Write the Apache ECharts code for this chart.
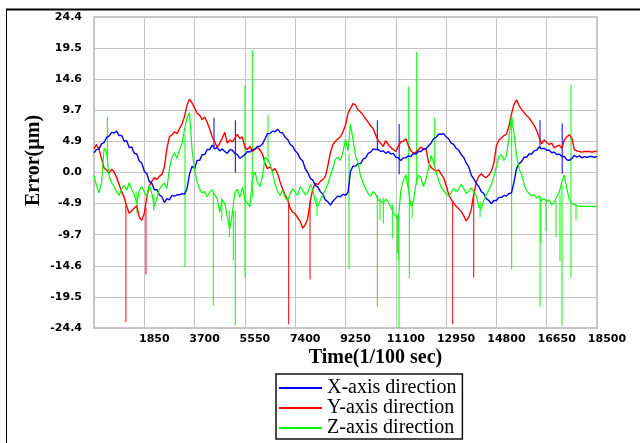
<!DOCTYPE html>
<html>
<head>
<meta charset="utf-8">
<script src="https://cdn.jsdelivr.net/npm/echarts@6/dist/echarts.min.js"></script>
<style>
  html, body { margin: 0; padding: 0; background: #fff; }
  #chart { width: 640px; height: 443px; }
</style>
</head>
<body>
<div id="chart"></div>
<script>
// samples every 92.5 (1/100 sec), 0 .. 18500
var timeStep = 92.5;

var xErr = [
  3.1, 3.6, 3.7, 4.5, 4.7, 5.5, 5.7, 6.3, 6.2, 6.5, 5.8, 5.8, 4.9, 5.0, 3.9, 4.0, 3.0, 2.9, 1.8, 1.5,
  0.2, -0.2, -1.4, -1.7, -2.7, -2.7, -3.5, -3.8, -4.7, -4.1, -4.3, -3.6, -3.7, -3.5, -3.5, -3.3, -3.4, -2.5, -0.2, 1.0,
  0.6, 1.9, 1.9, 2.8, 2.8, 3.6, 3.6, 4.3, 3.7, 3.9, 3.4, 3.7, 3.3, 3.0, 3.6, 3.5, 3.0, 2.8, 2.2, 2.5,
  2.8, 3.3, 3.2, 3.6, 3.7, 4.1, 4.1, 4.5, 5.3, 6.1, 6.1, 6.5, 6.4, 6.8, 6.3, 6.2, 5.5, 5.2, 4.4, 4.1,
  3.4, 3.0, 2.2, 1.8, 0.6, 0.0, -0.9, -1.2, -2.0, -2.3, -3.0, -3.4, -4.3, -4.6, -5.1, -4.5, -4.1, -3.7, -3.8, -3.4,
  -3.6, -3.1, 0.2, 1.0, 1.0, 1.4, 1.4, 2.1, 2.3, 3.0, 3.2, 3.7, 3.6, 3.6, 3.3, 3.4, 3.0, 3.3, 2.9, 3.0,
  2.4, 2.3, 1.9, 2.3, 2.3, 2.6, 2.5, 3.0, 2.9, 3.3, 3.3, 3.7, 3.7, 4.2, 4.6, 5.3, 5.5, 6.0, 6.0, 6.1,
  5.6, 5.3, 4.6, 4.4, 3.8, 3.5, 2.8, 2.4, 1.5, 0.9, -0.4, -1.0, -1.7, -2.2, -3.0, -3.3, -4.1, -4.4, -4.9, -4.4,
  -4.4, -3.9, -3.9, -3.6, -3.7, -3.3, -3.2, -1.5, 0.6, 1.4, 1.7, 2.4, 2.4, 2.9, 2.9, 3.4, 3.5, 4.0, 3.7, 3.8,
  3.5, 3.5, 3.1, 3.2, 2.8, 2.9, 2.5, 2.5, 2.0, 1.9, 2.2, 2.7, 2.4, 2.6, 2.3, 2.5, 2.4, 2.5, 2.5, 2.4, 2.5
];

var yErr = [
  3.7, 4.4, 3.6, 2.2, 0.7, 0.4, -0.1, 0.5, 0.1, -0.8, -1.9, -3.0, -3.9, -5.3, -6.4, -6.0, -5.6, -5.2, -7.0, -7.5,
  -6.4, -3.9, -2.1, -1.4, -0.8, -1.1, -0.6, -0.3, 0.9, 3.8, 5.6, 5.9, 6.4, 6.1, 6.9, 7.6, 8.8, 10.6, 11.5, 10.9,
  10.1, 9.3, 9.0, 8.3, 8.7, 7.9, 6.8, 5.6, 4.8, 3.9, 4.6, 5.4, 6.3, 4.6, 5.1, 4.8, 5.4, 6.0, 5.3, 5.6,
  3.9, 3.6, 4.1, 3.3, 3.6, 4.0, 3.5, 2.9, 1.4, 0.6, 0.9, 0.3, 0.6, -0.2, -1.5, -2.6, -3.5, -4.3, -5.6, -6.2,
  -6.5, -7.1, -7.7, -8.7, -8.2, -7.2, -4.5, -2.6, -1.7, -1.9, -1.4, -1.1, -0.6, 1.1, 3.1, 4.4, 4.9, 5.3, 5.6, 6.4,
  7.4, 9.3, 10.1, 10.8, 10.6, 9.8, 9.5, 9.0, 8.4, 7.9, 7.3, 6.9, 5.9, 5.0, 4.6, 4.1, 5.0, 4.4, 3.9, 3.6,
  3.3, 4.1, 4.8, 4.9, 5.3, 4.2, 3.4, 3.0, 3.2, 3.6, 4.0, 3.6, 3.8, 1.6, 0.8, 0.5, 0.2, 0.4, -0.2, -0.8,
  -2.0, -3.4, -4.2, -4.8, -5.3, -5.7, -6.1, -6.8, -7.6, -7.0, -5.8, -3.4, -1.5, -0.6, -0.2, -0.6, -0.8, -0.4, 0.2, 1.5,
  4.2, 5.1, 5.4, 5.8, 6.0, 7.3, 9.2, 10.7, 11.4, 10.5, 9.9, 9.4, 8.9, 8.6, 8.0, 7.4, 6.6, 5.5, 4.5, 5.1,
  4.7, 4.4, 4.6, 3.9, 4.1, 4.3, 3.8, 5.1, 5.6, 5.9, 5.4, 3.6, 3.4, 3.3, 3.2, 3.3, 3.3, 3.3, 3.2, 3.3, 3.3
];

var zErr = [
  -0.5, -2.1, -3.2, -1.6, 3.8, 3.2, -0.6, -1.6, -2.2, -3.0, -3.6, -2.6, -2.0, -2.8, -1.6, -2.7, -3.4, -4.9, -2.8, -2.2,
  -3.0, -3.8, -2.0, -3.3, -5.4, -4.0, -2.6, -2.0, -1.7, -2.5, 0.6, 2.4, 3.1, 2.2, 3.6, 4.5, 6.8, 8.6, 9.4, 3.5,
  0.4, -1.4, -2.6, -3.2, -3.0, -3.8, -3.1, -2.7, -3.5, -4.1, -6.2, -4.3, -4.8, -6.9, -8.9, -6.4, -3.2, -2.6, -3.9, -2.3,
  -4.3, -4.8, -5.4, -1.0, 0.1, -1.6, -2.2, -0.6, 2.4, 2.0, 1.4, -0.1, -1.8, -2.9, -3.6, -2.8, -3.9, -4.4, -3.3, -2.5,
  -3.1, -3.6, -2.2, -2.8, -3.5, -3.2, -1.9, -2.7, -4.6, -5.3, -4.3, -3.5, -2.7, -1.8, -0.4, 0.7, 2.1, 2.4, 1.9, 3.2,
  5.2, 3.4, 7.6, 5.1, 2.6, 1.6, -0.6, -1.6, -2.5, -3.3, -3.7, -3.0, -3.4, -4.3, -4.5, -4.8, -4.2, -4.6, -5.4, -6.3,
  -6.9, -7.4, -2.8, -1.2, -0.4, -2.6, -5.3, -4.6, -1.8, -0.4, -0.9, -2.2, -1.1, 0.6, 2.7, 1.6, 0.1, -1.2, -2.3, -2.8,
  -3.4, -3.7, -3.2, -2.5, -3.0, -2.6, -1.8, -2.5, -3.3, -2.9, -2.4, -3.0, -3.6, -5.4, -5.7, -4.4, -3.5, -2.7, -1.9, -0.7,
  1.0, 2.5, 2.8, 1.9, 2.7, 5.4, 8.9, 6.2, 2.6, 0.6, -0.3, -1.9, -2.8, -3.3, -3.7, -3.5, -4.0, -3.7, -4.4, -4.1,
  -4.5, -4.3, -5.1, -4.6, -3.8, -3.1, -1.5, -0.4, -2.6, -4.2, -4.9, -5.0, -5.2, -5.3, -5.3, -5.3, -5.3, -5.3, -5.3, -5.3, -5.3
];

// single-sample spikes: [time, from, to]
var xSpikes = [[4414, 4.0, 8.6], [5199, 0.0, 8.2], [10421, 3.5, 8.2], [11224, -0.3, 7.6], [16404, 3.8, 8.2], [17220, -0.2, 7.7]];
var ySpikes = [[1174, -5.0, -23.5], [1912, -5.5, -16.0], [7160, -4.8, -23.8], [7945, -4.5, -16.8], [13192, -4.5, -23.8], [13966, -3.5, -16.5]];
var zSpikes = [
  [490, 2.0, 8.7], [1580, -3.0, -6.4], [2200, -3.5, -6.0], [3347, 6.0, -14.8], [4388, -3.0, -20.9],
  [4700, -4.0, -7.6], [4977, -6.0, -10.1], [5124, -6.0, -13.8], [5197, -6.0, -24.0], [5554, 13.7, -16.4],
  [5823, -4.0, 19.2], [6400, 1.5, 9.0], [8200, -4.0, -6.8], [9379, 3.0, -15.2], [10420, -3.5, -21.1],
  [10519, -4.0, -7.5], [10641, -4.0, -8.0], [10986, -5.0, -10.3], [11157, -6.5, -12.7], [11190, -7.0, -13.8],
  [11218, -7.0, -24.4], [11574, -2.5, 13.5], [11597, -3.0, -16.6], [11700, -4.5, -7.2], [11868, -2.0, 18.9],
  [12531, 1.0, 8.6], [14200, -4.5, -7.0], [15362, 8.9, -15.2], [16404, -3.7, -21.1], [16440, -4.0, -11.1],
  [16624, -4.2, -9.2], [16992, -4.5, -10.2], [17139, -3.5, -13.9], [17213, -2.0, -24.0], [17544, 13.8, -16.4],
  [17728, -5.0, -7.5]
];

var yTickLabels = ["-24.4", "-19.5", "-14.6", "-9.7", "-4.9", "0.0", "4.9", "9.7", "14.6", "19.5", "24.4"];
var names = ["X-axis direction", "Y-axis direction", "Z-axis direction"];
var colors = ["#0000f0", "#ff0000", "#00ff00"];
var widths = [1.4, 1.4, 1.2];

function toPoints(vals) {
  return vals.map(function (v, i) { return [i * timeStep, v]; });
}

function lineSeries(k, vals) {
  return {
    name: names[k],
    type: "line",
    data: toPoints(vals),
    showSymbol: false,
    symbol: "none",
    sampling: "none",
    color: colors[k],
    lineStyle: { color: colors[k], width: widths[k] },
  };
}

function spikeSeries(k, spikes) {
  return {
    name: names[k],
    type: "custom",
    data: spikes,
    encode: { x: 0, y: [1, 2] },
    clip: true,
    color: colors[k],
    renderItem: function (params, api) {
      var a = api.coord([api.value(0), api.value(1)]);
      var b = api.coord([api.value(0), api.value(2)]);
      return {
        type: "line",
        shape: { x1: a[0], y1: a[1], x2: b[0], y2: b[1] },
        style: { stroke: colors[k], lineWidth: 1 },
      };
    },
  };
}

var myChart = echarts.init(document.getElementById("chart"));
var option = {
  animation: false,
  backgroundColor: "#fff",
  grid: {
    left: 94, top: 17, width: 503, height: 311,
    show: true, borderColor: "#c8c8c8", borderWidth: 2, backgroundColor: "#fff",
  },
  xAxis: {
    type: "value",
    min: 0, max: 18500, interval: 1850,
    name: "Time(1/100 sec)",
    nameLocation: "middle",
    nameGap: 20,
    nameMoveOverlap: false,
    nameTextStyle: {
      fontFamily: "Liberation Serif", fontWeight: "bold", fontSize: 20, color: "#000",
      padding: [0, 0, 0, 60],
    },
    axisLine: { show: false },
    axisTick: { show: false },
    splitLine: { show: true, lineStyle: { color: "#c4c4c4", width: 1 } },
    axisLabel: {
      margin: 6,
      padding: [0, 0, 0, 20],
      fontFamily: "DejaVu Sans", fontWeight: "bold", fontSize: 11, color: "#000",
      formatter: function (v) { return v === 0 ? "" : String(v); },
    },
  },
  yAxis: {
    type: "value",
    min: -24.4, max: 24.4, interval: 4.88,
    name: "Error(µm)",
    nameLocation: "middle",
    nameRotate: 90,
    nameGap: 50,
    nameMoveOverlap: false,
    nameTextStyle: {
      fontFamily: "Liberation Serif", fontWeight: "bold", fontSize: 20, color: "#000",
      padding: [0, 0, 0, 24],
    },
    axisLine: { show: false },
    axisTick: { show: false },
    splitLine: { show: true, lineStyle: { color: "#c4c4c4", width: 1 } },
    axisLabel: {
      margin: 12,
      fontFamily: "DejaVu Sans", fontWeight: "bold", fontSize: 11, color: "#000",
      formatter: function (v) { return yTickLabels[Math.round((v + 24.4) / 4.88)]; },
    },
  },
  legend: {
    data: names,
    orient: "vertical",
    left: 276, top: 374,
    padding: [4, 6, 1, 3],
    itemGap: 0,
    itemWidth: 43,
    itemHeight: 2,
    itemTextGap: 5,
    icon: "rect",
    borderColor: "#111",
    borderWidth: 1.5,
    backgroundColor: "#fff",
    textStyle: { fontFamily: "Liberation Serif", fontSize: 20, color: "#000", lineHeight: 19.5 },
  },
  graphic: [
    { type: "line", silent: true, shape: { x1: 6, y1: 9.5, x2: 640, y2: 9.5 }, style: { stroke: "#000", lineWidth: 2 } },
    { type: "line", silent: true, shape: { x1: 6.5, y1: 9, x2: 6.5, y2: 443 }, style: { stroke: "#000", lineWidth: 1 } },
  ],
  series: [
    lineSeries(1, yErr),
    spikeSeries(1, ySpikes),
    lineSeries(0, xErr),
    spikeSeries(0, xSpikes),
    lineSeries(2, zErr),
    spikeSeries(2, zSpikes),
  ],
};
option && myChart.setOption(option);
</script>
</body>
</html>
